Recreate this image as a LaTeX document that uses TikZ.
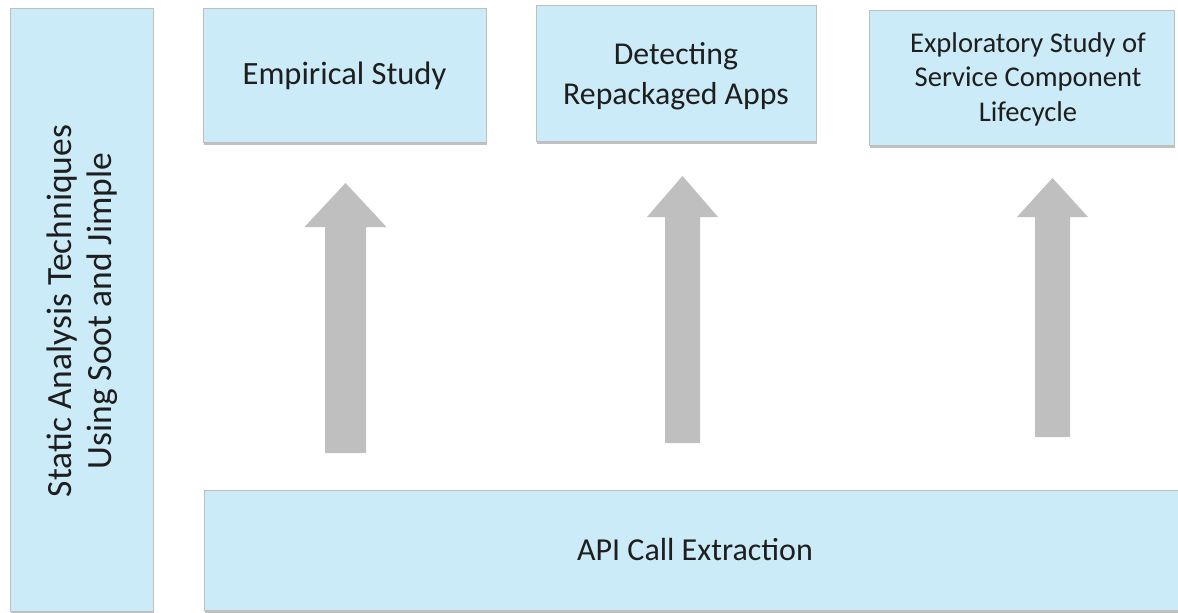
\documentclass[tikz,border=0pt]{standalone}
\usepackage{fontspec}
\setmainfont{Carlito}
\usetikzlibrary{shadows}
\definecolor{boxfill}{HTML}{CCEBF8}
\definecolor{boxline}{HTML}{BEBEBE}
\definecolor{arrowgray}{HTML}{BFBFBF}
\definecolor{txt}{HTML}{1E1E1E}
\tikzset{
  panel/.style={draw=boxline, line width=0.8pt, fill=boxfill, text=txt,
    drop shadow={shadow xshift=1pt, shadow yshift=-3pt, opacity=0.45, fill=black!55}},
  uparrow/.style={fill=arrowgray, draw=none}
}
% block arrow: centre x, tip y, head base y, bottom y, head half width, shaft half width
\newcommand\blockarrow[6]{%
  \fill[uparrow] (#1-#6,#4) -- (#1-#6,#3) -- (#1-#5,#3) -- (#1,#2)
    -- (#1+#5,#3) -- (#1+#6,#3) -- (#1+#6,#4) -- cycle;}
\begin{document}
\begin{tikzpicture}[x=1pt,y=-1pt]
\useasboundingbox (0,0) rectangle (1178,613);
\clip (0,0) rectangle (1178,613);

% side panel
\draw[panel] (10,8) rectangle (153,611);
\node[text=txt, rotate=90, align=center, font=\fontsize{35.5}{40}\selectfont]
  (tools) at (82,311) {Static Analysis Techniques\\Using Soot and Jimple};

% top row of studies
\draw[panel] (203,8) rectangle (486,142);
\node[text=txt, font=\fontsize{32.5}{38}\selectfont] (emp) at (344.5,76) {Empirical Study};

\draw[panel] (536,5) rectangle (816,141);
\node[text=txt, align=center, font=\fontsize{31.8}{40}\selectfont]
  (rep) at (676,76) {Detecting\\Repackaged Apps};

\draw[panel] (869,10) rectangle (1174,145);
\node[text=txt, align=center, font=\fontsize{28.6}{34.5}\selectfont]
  (svc) at (1028,79) {Exploratory Study of\\Service Component\\Lifecycle};

% bottom layer
\draw[panel] (204,490) rectangle (1186,610);
\node[text=txt, font=\fontsize{32}{38}\selectfont] (api) at (695,550) {API Call Extraction};

% upward block arrows
\blockarrow{345.5}{183}{227}{453}{41}{20.5}
\blockarrow{682.5}{176}{217}{443}{35.5}{17.5}
\blockarrow{1052.5}{178}{217}{437}{35.5}{17.5}
\end{tikzpicture}
\end{document}
